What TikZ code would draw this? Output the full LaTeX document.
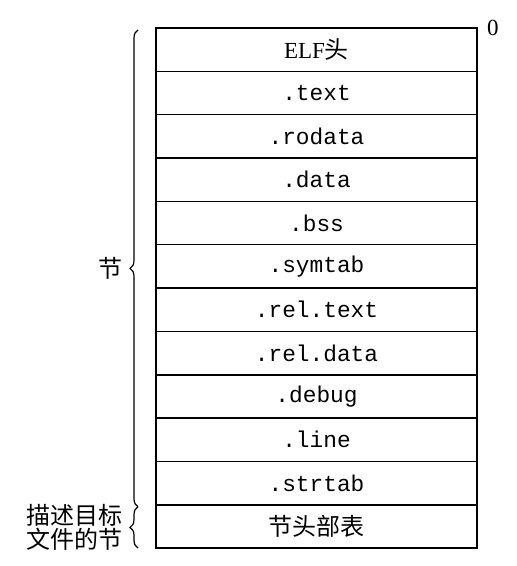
\documentclass[tikz,border=0pt]{standalone}
\usepackage{fontspec}
\setmainfont{Liberation Serif}
\setmonofont{Liberation Mono}
\newfontfamily\cjk{Noto Sans CJK SC}
\usetikzlibrary{positioning, decorations.pathreplacing}

\begin{document}
\begin{tikzpicture}[
    x=0.5pt, y=-0.5pt,
    font=\fontsize{11.5}{13}\selectfont,
    section/.style = {draw, rectangle, line width=0.8pt, minimum width=160.5pt,
                      minimum height=21.67pt, inner sep=0pt, outer sep=0pt,
                      font=\fontsize{11.4}{13}\selectfont\ttfamily},
    cjktext/.style = {font=\fontsize{12}{12}\selectfont\cjk},
    brace/.style   = {draw, line width=0.6pt, decorate, decoration={brace, amplitude=4pt}},
  ]
  \useasboundingbox (0,0) rectangle (516,566);

  \node[section, anchor=north west] (elf) at (156,28)
       {\fontsize{11.5}{13}\rmfamily ELF{\cjk\fontsize{12}{12}\selectfont 头}};
  \node[section, below=0pt of elf] (text) {.text};
  \node[section, below=0pt of text] (rodata) {.rodata};
  \node[section, below=0pt of rodata] (data) {.data};
  \node[section, below=0pt of data] (bss) {.bss};
  \node[section, below=0pt of bss] (symtab) {.symtab};
  \node[section, below=0pt of symtab] (reltext) {.rel.text};
  \node[section, below=0pt of reltext] (reldata) {.rel.data};
  \node[section, below=0pt of reldata] (debug) {.debug};
  \node[section, below=0pt of debug] (line) {.line};
  \node[section, below=0pt of line] (strtab) {.strtab};
  \node[section, cjktext, below=0pt of strtab] (shtab) {节头部表};

  \node[right=1.5pt of elf.north east] (zero) {0};

  % braces on the left
  \draw[brace] ([xshift=-9pt,yshift=-1pt]strtab.south west)
    -- ([xshift=-9pt,yshift=-1pt]elf.north west)
    node[midway, left=4pt, cjktext] (sections) {节};
  \draw[brace] ([xshift=-9pt]shtab.south west)
    -- ([xshift=-9pt,yshift=-1pt]shtab.north west)
    node[midway, left=4pt, cjktext, align=center] (shlabel) {描述目标\\文件的节};
\end{tikzpicture}
\end{document}
